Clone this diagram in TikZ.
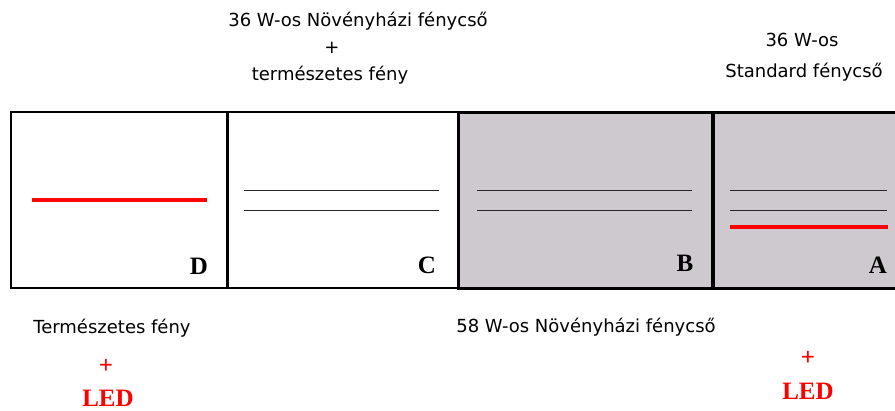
\documentclass[tikz,border=0pt]{standalone}
\usepackage{fontspec}
\setmainfont{Liberation Serif}
\newfontfamily\captionfont{DejaVu Sans}
\usepackage{tikz}
\usetikzlibrary{calc}
\definecolor{lampgray}{HTML}{CDC9CF}
\definecolor{ledred}{HTML}{FF0000}

\begin{document}
\begin{tikzpicture}[
  x=1pt, y=-1pt,
  cell/.style={
    draw=black,
    line width=1.6pt,
    minimum height=176pt,
    inner sep=0pt,
    anchor=north west
  },
  lampcell/.style={
    cell,
    fill=lampgray,
    line width=3pt
  },
  tube/.style={draw=black!85, line width=1pt},
  ledtube/.style={draw=ledred, line width=3.6pt},
  celltag/.style={font=\bfseries\fontsize{25}{25}\selectfont, inner sep=0pt},
  caption/.style={font=\captionfont\fontsize{18}{20}\selectfont, inner sep=0pt},
  ledtag/.style={font=\bfseries\fontsize{25}{25}\selectfont, text=ledred, inner sep=0pt}
]
  \useasboundingbox (0,0) rectangle (895,410);
  \clip (0,0) rectangle (895,410);

  % --- Compartments ---
  \node[lampcell, minimum width=255pt] (cellB) at (457,111) {};
  \node[lampcell, minimum width=200pt] (cellA) at (712,111) {};
  \node[cell, minimum width=216pt] (cellD) at (10,111) {};
  \node[cell, minimum width=231pt] (cellC) at (226,111) {};
  \draw[line width=2.6pt] (cellD.north east) -- (cellD.south east);
  \draw[line width=2.6pt] (cellA.north west) -- (cellA.south west);

  % --- Tubes ---
  \draw[ledtube] (32,200) -- (207,200);
  \draw[tube] (244,190) -- (439,190);
  \draw[tube] (244,210) -- (439,210);
  \draw[tube] (477,190) -- (692,190);
  \draw[tube] (477,210) -- (692,210);
  \draw[tube] (730,190) -- (887,190);
  \draw[tube] (730,210) -- (887,210);
  \draw[ledtube] (730,227) -- (888,227);

  % --- Compartment letters ---
  \node[celltag] (tagD) at (199,266) {D};
  \node[celltag] (tagC) at (427,265) {C};
  \node[celltag] (tagB) at (685,263) {B};
  \node[celltag] (tagA) at (878,265) {A};

  % --- Captions above ---
  \node[caption] (topC1) at (358,21) {36 W-os Növényházi fénycső};
  \node[caption] (topC2) at (332,48) {+};
  \node[caption] (topC3) at (330,75) {természetes fény};
  \node[caption] (topA1) at (802,40) {36 W-os};
  \node[caption] (topA2) at (804,72) {Standard fénycső};

  % --- Captions below ---
  \node[caption] (botD) at (112,328) {Természetes fény};
  \node[ledtag] (plusD) at (106,366) {+};
  \node[ledtag] (ledD) at (108,398) {LED};
  \node[caption] (botB) at (586,327) {58 W-os Növényházi fénycső};
  \node[ledtag] (plusA) at (808,358) {+};
  \node[ledtag] (ledA) at (808,391) {LED};

\end{tikzpicture}
\end{document}
